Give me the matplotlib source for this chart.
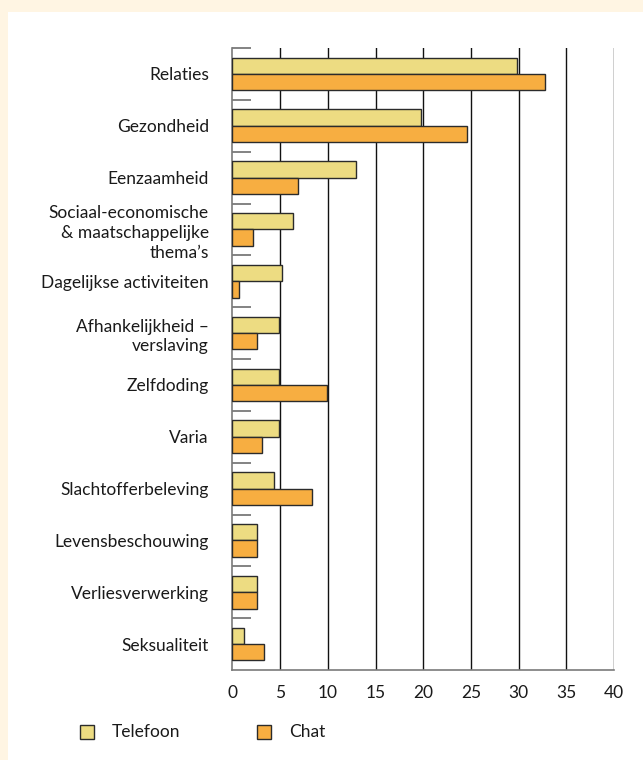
import matplotlib
matplotlib.use("Agg")
import matplotlib.pyplot as plt
from matplotlib.patches import Rectangle
import numpy as np

plt.rcParams["font.family"] = ["Lato", "DejaVu Sans"]

CATEGORIES = [
    "Relaties",
    "Gezondheid",
    "Eenzaamheid",
    "Sociaal-economische\n& maatschappelijke\nthema\u2019s",
    "Dagelijkse activiteiten",
    "Afhankelijkheid \u2013\nverslaving",
    "Zelfdoding",
    "Varia",
    "Slachtofferbeleving",
    "Levensbeschouwing",
    "Verliesverwerking",
    "Seksualiteit",
]
TELEFOON = [29.8, 19.8, 12.9, 6.3, 5.2, 4.9, 4.9, 4.9, 4.3, 2.6, 2.6, 1.2]
CHAT = [32.8, 24.6, 6.9, 2.2, 0.7, 2.6, 9.9, 3.1, 8.3, 2.6, 2.6, 3.3]
X_TICKS = [0, 5, 10, 15, 20, 25, 30, 35, 40]
SERIES = ["Telefoon", "Chat"]

COL_TEL = "#EDDC82"
COL_CHAT = "#F7AE41"
EDGE = "#2b2b2b"
CREAM = "#FFF5E3"
TXT = "#1a1a1a"
FS = 12.5

fig = plt.figure(figsize=(6.43, 7.60), dpi=100, facecolor=CREAM)
fig.patches.append(Rectangle((8 / 643, 0), 1, 1 - 12 / 760, transform=fig.transFigure,
                             facecolor="white", edgecolor="none", zorder=-10))

ax = fig.add_axes([232.5 / 643, 1 - 670 / 760, (614 - 232.5) / 643, (670 - 48) / 760])
ax.set_facecolor("none")

y = np.arange(len(CATEGORIES))
h = 0.315
ax.barh(y - h / 2, TELEFOON, height=h, color=COL_TEL, edgecolor=EDGE, linewidth=1, zorder=3)
ax.barh(y + h / 2, CHAT, height=h, color=COL_CHAT, edgecolor=EDGE, linewidth=1, zorder=3)

ax.set_xlim(0, 40)
ax.set_ylim(len(CATEGORIES) - 0.5, -0.5)
ax.set_xticks(X_TICKS)
ax.set_xticklabels([str(t) for t in X_TICKS], fontsize=FS, color=TXT)
ax.tick_params(axis="x", length=0, pad=11)

ax.set_yticks(y)
ax.set_yticklabels(CATEGORIES, fontsize=FS, color=TXT, linespacing=1.3)
ax.tick_params(axis="y", which="major", length=0, pad=17)
ax.set_yticks(np.arange(len(CATEGORIES)) - 0.5, minor=True)
ax.tick_params(axis="y", which="minor", direction="in", length=14, width=1.2, color="#6e6e6e")

for x in X_TICKS[1:]:
    ax.axvline(x, color="#111111", linewidth=1, zorder=1)

for side in ["top", "right"]:
    ax.spines[side].set_visible(False)
for side in ["left", "bottom"]:
    ax.spines[side].set_color("#7a7a7a")
    ax.spines[side].set_linewidth(1.2)

# legend below the axes
sq = 14
for px, col, label in [(87, COL_TEL, SERIES[0]), (264, COL_CHAT, SERIES[1])]:
    fig.patches.append(Rectangle(((px - sq / 2) / 643, 1 - (732 + sq / 2) / 760), sq / 643, sq / 760,
                                 transform=fig.transFigure, facecolor=col, edgecolor=EDGE, linewidth=1))
    fig.text((px + 25) / 643, 1 - 732 / 760, label, fontsize=FS, va="center", ha="left", color=TXT)

fig.savefig("out.png", dpi=100, facecolor=CREAM)
